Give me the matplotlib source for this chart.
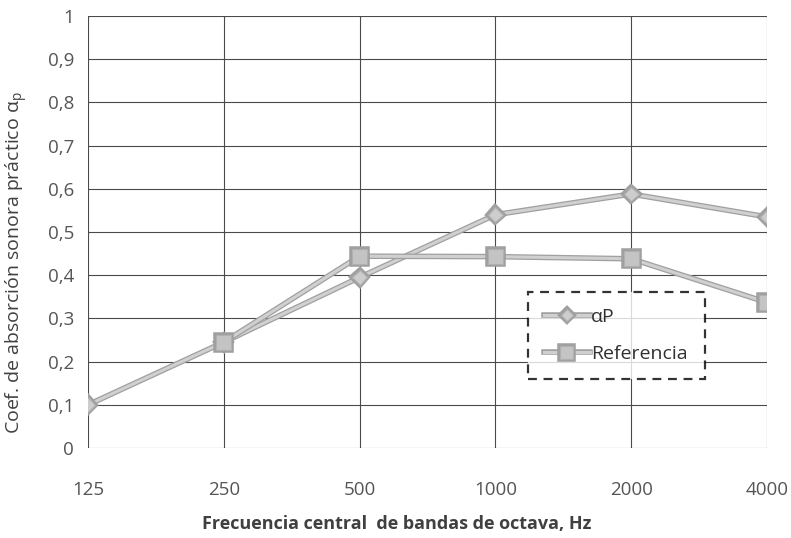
import matplotlib.pyplot as plt
import matplotlib.patheffects as pe
import numpy as np

# Datos
bandas = ["125", "250", "500", "1000", "2000", "4000"]
alfa_p = [0.10, 0.245, 0.395, 0.54, 0.588, 0.535]
referencia = [np.nan, 0.245, 0.444, 0.443, 0.438, 0.337]
yticks = [0, 0.1, 0.2, 0.3, 0.4, 0.5, 0.6, 0.7, 0.8, 0.9, 1]

plt.rcParams["font.family"] = ["Open Sans", "DejaVu Sans"]

fig = plt.figure(figsize=(7.91, 5.38), dpi=100)
ax = fig.add_axes([88 / 791, 1 - 448 / 538, 679 / 791, 432 / 538])

x = np.arange(len(bandas))
borde = [pe.Stroke(linewidth=4.0, foreground="#a0a0a0"), pe.Normal()]

ax.plot(x, alfa_p, color="#d0d0d0", lw=2.2, marker="D", ms=7.5,
        mfc="#cdcdcd", mec="#b0b0b0", mew=0.8, label="αP",
        path_effects=borde, zorder=3)
ax.plot(x, referencia, color="#d0d0d0", lw=2.2, marker="s", ms=11,
        mfc="#c4c4c4", mec="#b0b0b0", mew=0.8, label="Referencia",
        path_effects=borde, zorder=3)

ax.set_xlim(0, len(bandas) - 1)
ax.set_ylim(0, 1)
ax.set_xticks(x)
ax.set_xticklabels(bandas)
ax.set_yticks(yticks)
ax.set_yticklabels([("%g" % v).replace(".", ",") for v in yticks])
ax.tick_params(length=0, labelsize=13.5, colors="#555555", pad=10)
ax.tick_params(axis="x", pad=24)

ax.grid(True, color="#4a4a4a", lw=0.8)
for s in ax.spines.values():
    s.set_visible(False)

ax.set_ylabel("Coef. de absorción sonora práctico α$_\\mathregular{p}$",
              fontsize=14, color="#404040")
ax.yaxis.set_label_coords(-0.085, 0.43)
ax.set_xlabel("Frecuencia central  de bandas de octava, Hz", fontsize=13,
              fontweight="bold", color="#404040")
ax.xaxis.set_label_coords(0.454, -0.155)

leg = ax.legend(loc="upper left", bbox_to_anchor=(0.648, 0.361, 0.261, 0.0),
                mode="expand", fontsize=14, frameon=True, fancybox=False,
                handlelength=2.4, handletextpad=0.05, borderaxespad=0,
                labelspacing=1.0, borderpad=0.8, markerscale=0.85)
fr = leg.get_frame()
fr.set_edgecolor("black")
fr.set_linewidth(1.6)
fr.set_linestyle((0, (4, 3)))
for t in leg.get_texts():
    t.set_color("#303030")

fig.savefig("out.png", dpi=100)
